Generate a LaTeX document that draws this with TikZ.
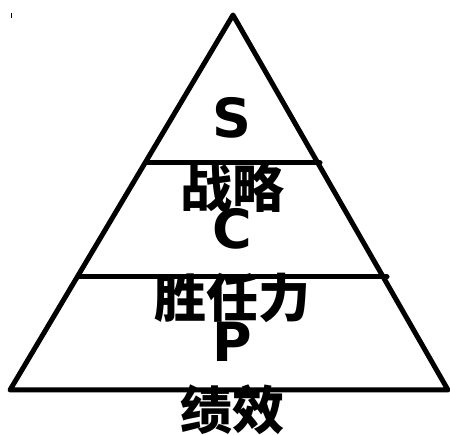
\documentclass[tikz,border=0pt]{standalone}
\usepackage{fontspec}
\newfontfamily\cjk{Noto Sans CJK SC}
\newfontfamily\latinbold{DejaVu Sans}
\usetikzlibrary{positioning}

\tikzset{
  level/.style={line width=5pt,line cap=round,line join=round},
  tier/.style={font=\latinbold\bfseries\fontsize{54}{54}\selectfont,inner sep=0pt},
  tiername/.style={font=\cjk\bfseries\fontsize{52}{52}\selectfont,inner sep=0pt}
}

\begin{document}
\begin{tikzpicture}[x=1pt,y=-1pt]
\useasboundingbox (0,0) rectangle (450,435);
% pyramid outline
\coordinate (apex) at (233,15);
\coordinate (left) at (10,390);
\coordinate (right) at (448,390);
\draw[level] (apex) -- (left) -- (right) -- cycle;
% dividing lines
\coordinate (s1) at (146,163);
\coordinate (e1) at (320,163);
\coordinate (s2) at (78,277);
\coordinate (e2) at (387,277);
\draw[level] (s1) -- (e1);
\draw[level] (s2) -- (e2);
\draw[line width=1pt] (11,13) -- (11,18);
% labels
\node[tier] (S) at (232,118) {S};
\node[tiername] (strategy) at (232,188) {战略};
\node[tier] (C) at (232,229) {C};
\node[tiername] (competence) at (232,298) {胜任力};
\node[tier] (P) at (232,342) {P};
\node[tiername] (performance) at (232,410) {绩效};
\end{tikzpicture}
\end{document}
